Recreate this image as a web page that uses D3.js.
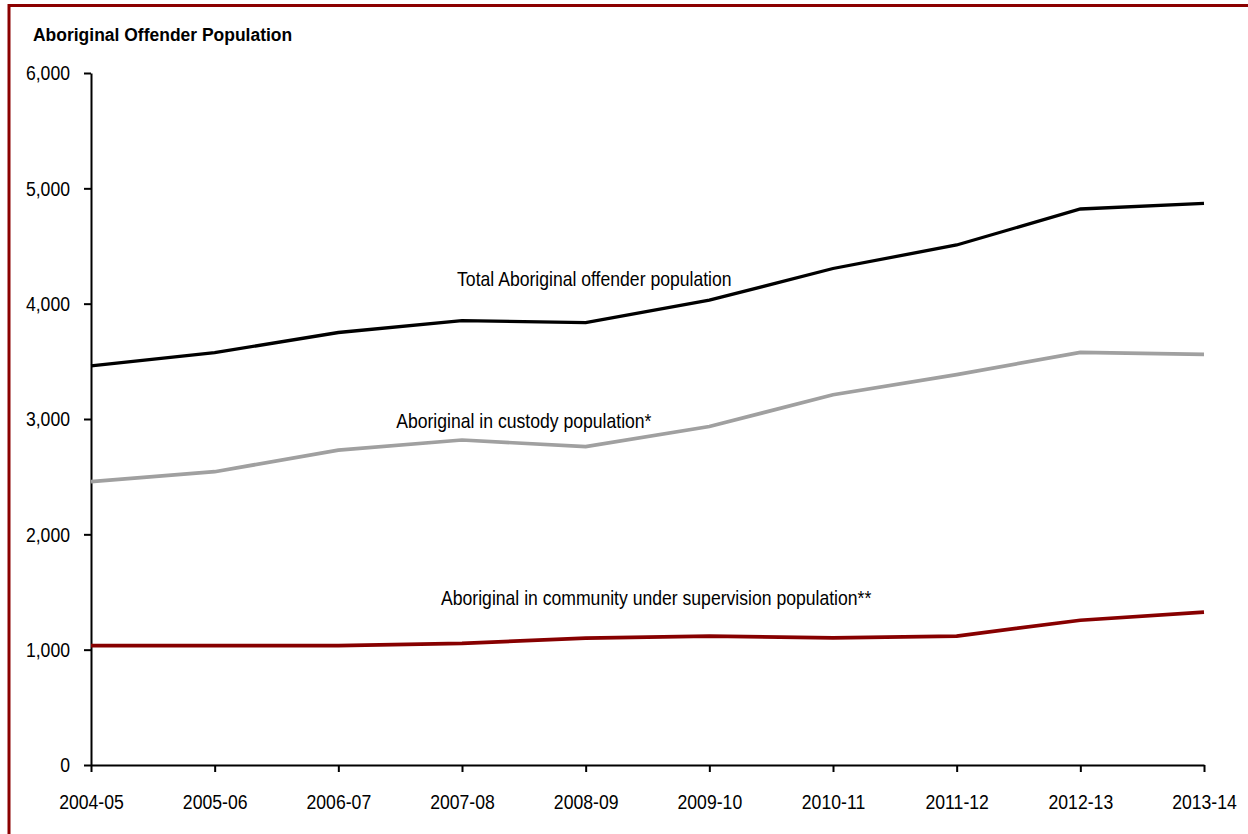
<!DOCTYPE html>
<meta charset="utf-8">
<head>
<style>
html, body{margin:0px; padding:0px; background:white;}
text {font-family: "Liberation Sans Narrow", "Arial Narrow", "Liberation Sans", Arial, sans-serif;}
</style>
</head>
<script src="https://d3js.org/d3.v7.min.js"></script>

<div id="my_dataviz"></div>

<script>

// data
var years = ["2004-05","2005-06","2006-07","2007-08","2008-09","2009-10","2010-11","2011-12","2012-13","2013-14"]
var totalPop = [3460, 3575, 3750, 3853, 3835, 4030, 4305, 4509, 4821, 4870]
var custodyPop = [2457, 2543, 2730, 2818, 2760, 2935, 3210, 3385, 3578, 3561]
var communityPop = [1035, 1035, 1035, 1055, 1100, 1118, 1102, 1118, 1255, 1325]
var yTicks = [0, 1000, 2000, 3000, 4000, 5000, 6000]

var seriesNames = ["Total Aboriginal offender population", "Aboriginal in custody population*", "Aboriginal in community under supervision population**"]
var seriesColors = ["#000000", "#a0a0a0", "#870000"]
// where each series label sits: [position in category steps, value]
var labelAt = [[4.07, 4210], [3.5, 2985], [4.57, 1450]]

var width = 1248, height = 834
var margin = {top: 73, right: 44, bottom: 69, left: 91}
var narrow = 0.84   // no narrow font installed, squeeze the regular one

var svg = d3.select("#my_dataviz")
  .append("svg")
    .attr("width", width)
    .attr("height", height)

// dark red frame (only top and left show)
svg.append("rect")
  .attr("x", 9).attr("y", 5.5)
  .attr("width", width + 20).attr("height", height + 20)
  .style("fill", "none")
  .style("stroke", "#8b0000")
  .style("stroke-width", 3)

svg.append("text")
  .attr("transform", "translate(33,41) scale(0.92,1)")
  .style("font-size", "19px")
  .style("font-weight", "bold")
  .text("Aboriginal Offender Population")

var g = svg.append("g")
  .attr("transform", "translate(" + margin.left + "," + margin.top + ")")
var w = width - margin.left - margin.right
var h = height - margin.top - margin.bottom

var x = d3.scalePoint()
  .domain(years)
  .range([0, w])

var y = d3.scaleLinear()
  .domain([0, 6000])
  .range([h, 0])

var xAxis = g.append("g")
  .attr("transform", "translate(0," + h + ")")
  .call(d3.axisBottom(x).tickSize(7).tickSizeOuter(0).tickPadding(22))
xAxis.selectAll("text")
  .style("font-size", "21px").style("fill", "#000")
  .attr("transform", "scale(" + narrow + ",1)")

var yAxis = g.append("g")
  .call(d3.axisLeft(y).tickValues(yTicks).tickSize(7).tickSizeOuter(0).tickPadding(14).tickFormat(d3.format(",")))
yAxis.selectAll("text")
  .style("font-size", "21px").style("fill", "#000")
  .attr("x", -21 / narrow)
  .attr("transform", "scale(" + narrow + ",1)")

g.selectAll(".domain, .tick line").style("stroke", "#000").style("stroke-width", 2)

var allSeries = [totalPop, custodyPop, communityPop]
var line = d3.line()
  .x(function(d, i) { return x(years[i]) })
  .y(function(d) { return y(d) })

g.selectAll(".series")
  .data(allSeries)
  .enter()
  .append("path")
    .attr("class", "series")
    .attr("d", line)
    .style("fill", "none")
    .style("stroke", function(d, i) { return seriesColors[i] })
    .style("stroke-width", function(d, i) { return i == 0 ? 3.3 : 3.7 })

g.selectAll(".lbl")
  .data(labelAt)
  .enter()
  .append("text")
    .attr("class", "lbl")
    .attr("transform", function(d) {
      return "translate(" + (x(years[0]) + d[0] * x.step()) + "," + y(d[1]) + ") scale(0.88,1)"
    })
    .attr("dy", "0.35em")
    .attr("text-anchor", "middle")
    .style("font-size", "20px")
    .text(function(d, i) { return seriesNames[i] })

</script>
</html>
